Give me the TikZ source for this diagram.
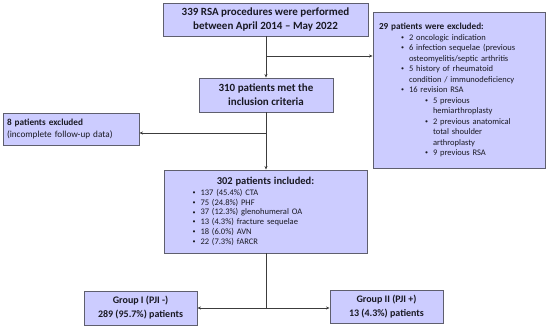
\documentclass[tikz,border=0pt]{standalone}
\usepackage{fontspec}
\setmainfont{Carlito}
\usetikzlibrary{arrows.meta}
\definecolor{boxfill}{RGB}{204,204,255}
\definecolor{boxline}{RGB}{95,95,110}
\definecolor{conn}{RGB}{60,60,60}
\definecolor{txt}{RGB}{25,25,35}
\tikzset{
  flowbox/.style={draw=boxline, fill=boxfill, line width=0.9pt, inner sep=0pt,
    text=txt, align=center},
  conn/.style={draw=conn, line width=0.8pt},
  arr/.style={conn, -{Stealth[length=3.5pt,width=3pt]}},
}
\newcommand{\bl}{\makebox[8pt][l]{\raisebox{0.8pt}{\fontsize{6}{6}\selectfont\textbullet}}}
\begin{document}
\begin{tikzpicture}[x=1pt,y=-1pt]
\useasboundingbox (0,0) rectangle (550,329);

\node[flowbox, minimum width=205pt, minimum height=33pt,
  font=\fontsize{11}{14}\selectfont\bfseries] (b1) at (265.5,19.5)
  {339 RSA procedures were performed\\between April 2014 -- May 2022};

\node[flowbox, minimum width=172pt, minimum height=156pt, text width=160pt,
  align=left, font=\fontsize{8.5}{10.5}\selectfont] (b29) at (459,90)
  {{\fontsize{9.2}{10.5}\selectfont\bfseries 29 patients were excluded:}\\
   \hspace*{22pt}\bl 2 oncologic indication\\
   \hspace*{22pt}\bl 6 infection sequelae (previous\\
   \hspace*{30pt}osteomyelitis/septic arthritis\\
   \hspace*{22pt}\bl 5 history of rheumatoid\\
   \hspace*{30pt}condition / immunodeficiency\\
   \hspace*{22pt}\bl 16 revision RSA\\
   \hspace*{46pt}\bl 5 previous\\
   \hspace*{54pt}hemiarthroplasty\\
   \hspace*{46pt}\bl 2 previous anatomical\\
   \hspace*{54pt}total shoulder\\
   \hspace*{54pt}arthroplasty\\
   \hspace*{46pt}\bl 9 previous RSA};

\node[flowbox, minimum width=134pt, minimum height=34pt,
  font=\fontsize{11}{14}\selectfont\bfseries] (b310) at (266,95)
  {310 patients met the\\inclusion criteria};

\node[flowbox, minimum width=136pt, minimum height=32pt, text width=128pt,
  align=left, font=\fontsize{9.2}{11.5}\selectfont] (b8) at (71,129)
  {\textbf{8 patients excluded}\\(incomplete follow-up data)};

\node[flowbox, minimum width=203pt, minimum height=83pt, text width=190pt,
  align=left, font=\fontsize{8.5}{9.8}\selectfont] (b302) at (265.5,211.5)
  {\makebox[190pt][c]{\fontsize{10.5}{12}\selectfont\bfseries 302 patients included:}\\[0.5pt]
   \hspace*{22pt}\bl 137 (45.4\%) CTA\\
   \hspace*{22pt}\bl 75 (24.8\%) PHF\\
   \hspace*{22pt}\bl 37 (12.3\%) glenohumeral OA\\
   \hspace*{22pt}\bl 13 (4.3\%) fracture sequelae\\
   \hspace*{22pt}\bl 18 (6.0\%) AVN\\
   \hspace*{22pt}\bl 22 (7.3\%) fARCR};

\node[flowbox, minimum width=113pt, minimum height=34pt,
  font=\fontsize{10}{14}\selectfont\bfseries] (g1) at (140.5,308)
  {Group I (PJI -)\\289 (95.7\%) patients};

\node[flowbox, minimum width=113pt, minimum height=33pt,
  font=\fontsize{10}{14}\selectfont\bfseries] (g2) at (386.5,306.5)
  {Group II (PJI +)\\13 (4.3\%) patients};

\coordinate (j1) at (266,56);
\coordinate (j2) at (266,133);
\coordinate (j3) at (266,308);

\draw[arr] (b1.south -| j1) -- (b310.north -| j1);
\draw[arr] (j1) -- (j1 -| b29.west);
\draw[arr] (b310.south -| j2) -- (b302.north -| j2);
\draw[arr] (j2) -- (j2 -| b8.east);
\draw[conn] (b302.south -| j3) -- (j3);
\draw[arr] (j3) -- (j3 -| g1.east);
\draw[arr] (j3) -- (j3 -| g2.west);
\end{tikzpicture}
\end{document}
